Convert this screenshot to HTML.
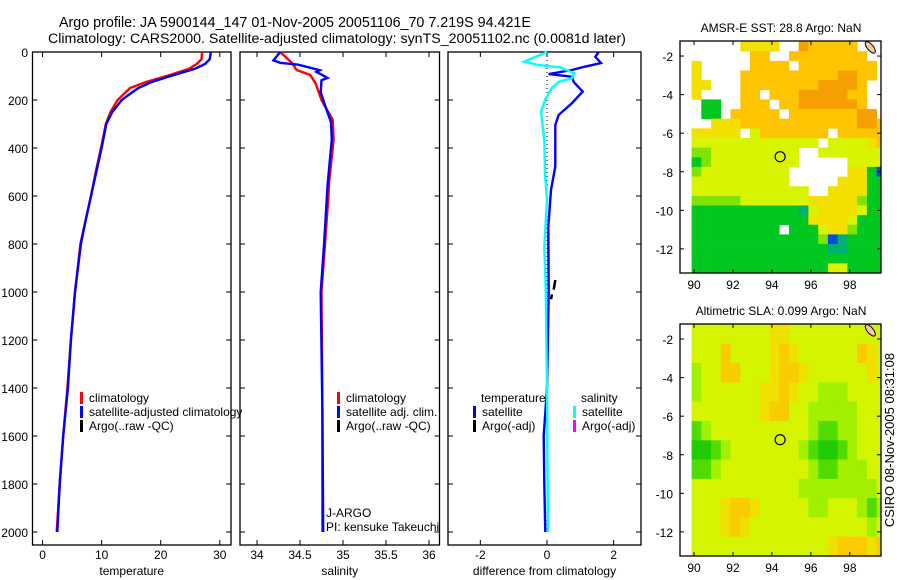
<!DOCTYPE html>
<html><head><meta charset="utf-8"><style>
html,body{margin:0;padding:0;background:#fff;}
svg{display:block;font-family:"Liberation Sans",sans-serif;}
</style></head><body>
<svg id="fig" width="900" height="580" viewBox="0 0 900 580" xmlns="http://www.w3.org/2000/svg">
<rect width="900" height="580" fill="#fff"/>
<text x="59" y="27" font-size="14.3">Argo profile: JA 5900144_147 01-Nov-2005 20051106_70 7.219S 94.421E</text>
<text x="48" y="43" font-size="14.2">Climatology: CARS2000. Satellite-adjusted climatology: synTS_20051102.nc (0.0081d later)</text>
<g id="plots"></g>
<text transform="translate(894,440) rotate(-90)" text-anchor="middle" font-size="13">CSIRO 08-Nov-2005 08:31:08</text>
</svg>
<script>
// ---- profile data ----
const tDepth = [0,30,50,70,100,125,150,200,250,300,400,500,600,700,800,1000,1200,1400,1600,1800,2000];
const tempClim = [27,26.9,26.1,24.8,21,17.5,14.8,12.7,11.5,10.7,9.9,9,8.2,7.3,6.4,5.5,4.8,4.2,3.5,2.9,2.4];
const tempSat = [28.5,28.3,27.5,25.8,21.7,18.5,16.2,13.4,11.8,10.8,10.0,9.1,8.2,7.3,6.5,5.5,4.8,4.3,3.5,2.9,2.5];
const sDepthClim = [0,47,75,96,130,200,283,366,533,600,800,1000,1500,2000];
const salClim = [34.27,34.41,34.46,34.62,34.68,34.75,34.88,34.89,34.84,34.83,34.79,34.75,34.76,34.76];
const sDepthSat = [0,35,45,53,76,83,94,108,118,167,222,292,366,476,560,800,1000,1500,2000];
const salSat = [34.27,34.19,34.27,34.48,34.73,34.69,34.75,34.82,34.75,34.74,34.79,34.86,34.87,34.84,34.82,34.78,34.74,34.76,34.77];
const dDepthT = [0,20,46,62,75,92,103,125,165,213,262,304,477,575,727,1000,1400,1600,1800,2000];
const diffTemp = [1.55,1.45,1.62,1.1,0.75,0.05,0.75,0.8,1.07,0.75,0.35,0.25,0.25,0.12,0.04,0.05,0,-0.1,-0.08,-0.05];
const dDepthS = [0,40,54,64,89,110,124,151,200,249,368,506,617,811,978,1400,2000];
const diffSal = [0,-0.68,-0.26,0.4,0.82,0.74,0.35,0.14,-0.06,-0.18,-0.08,-0.06,0,-0.08,-0.04,0,0.03];
const depthTicks = [0,200,400,600,800,1000,1200,1400,1600,1800,2000];
const tempTicks = [0,10,20,30];
const salTicks = [34,34.5,35,35.5,36];
const salTickLabels = ["34","34.5","35","35.5","36"];
const diffTicks = [-2,0,2];

// ---- map data (0.5 deg cells from lon 89.875, lat -1.25 downward) ----
const sstRows = [
".....YYYY..oyyyyy...",
"......yy..yyyyyyyy..",
"Y.....yyyy.yyyyyyyy.",
"Y....yyyyyyyyyyooyy.",
"YY...yyyyyyyyooooy..",
"Y....yy.yyyoooooyy..",
".gg..yyy.yyooooooy..",
".gg.yyyyy.yyyyyyyoo.",
"..YYYyyyyyyyyyyyyooy",
"YYYYY.Lyyyyyyy.yyyyy",
"LLLLLLLLLLLLL.LLLLYy",
"GGLLLLLLLLL..LLLLLLL",
"gGLLLLLLLLL.....LLLL",
"GLLLLLLLLL......YYgb",
"LLLLLLLLLL.....YYYgg",
"LLLLLLLLLLLL..YYYYgg",
"GGGGGLLLLLLLYYYYYGgg",
"gggggggggggtLYYYYLgg",
"ggggggggggggYYYYLggg",
"ggggggggg.gggLYYGggg",
"gggggggggggggGbtgggg",
"ggggggggggggggttgggg",
"gggggggggggggggggggg",
"ggggggggggggggLLgggg"];
const slaRows = [
"LLLLLLLLyyLLLLLLLLLL","LLLLLLLLyyLLLLLLLLLL",
"LLLoLLLLyoyLLLLLLoyL","LLLoLLLLyoyLLLLLLoyL",
"GLLooLLLyooyLLLLLLyL","GLLooLLLyooyLLLLLLyL",
"GLLLLLLyyoyLLGGGLLLL","GLLLLLLyyoyLLGGGLLLL",
"LLLLLLLyooLLGGGGGLLL","LLLLLLLyooLLGGGGGLLL",
"gGLLLLLLLLLLGggGGLLL","gGLLLLLLLLLLGggGGLLL",
"ddgGLLLLLLLGgddgGLLL","ddgGLLLLLLLGgddgGLLL",
"ggGLLLLLLLLLGggGGGLL","ggGLLLLLLLLLGggGGGLL",
"LLLLLLLLLLLGGGGGGGGL","LLLLLLLLLLLGGGGGGGGL",
"LLLyooyLLLLLGGLLLGgG","LLLyooyLLLLLGGLLLGgG",
"LLLyoyLLLLLLLLLLLLGL","LLLyoyLLLLLLLLLLLLGL",
"LLLLLLLLLLLLLLyoooyo","LLLLLLLLLLLLLLyoooyo"];
const latTicks = [-2,-4,-6,-8,-10,-12];
const lonTicks = [90,92,94,96,98];
const argoLon = 94.42, argoLat = -7.22;

const NS = "http://www.w3.org/2000/svg";
const root = document.getElementById('plots');
function mk(tag, attrs, parent){const e=document.createElementNS(NS,tag);for(const k in attrs)e.setAttribute(k,attrs[k]);(parent||root).appendChild(e);return e;}
function txt(x,y,s,size,anchor,parent){const t=mk('text',{x:x,y:y,'font-size':size,'text-anchor':anchor||'start'},parent);t.textContent=s;return t;}

const yTop=52, yBot=545, yD=d=>52+d*0.24;
function panel(name,x0,x1,xmin,xmax,ticks,labels,xlabel,showY){
  const g=mk('g',{});
  
  
  const sx=v=>x0+(v-xmin)/(xmax-xmin)*(x1-x0);
  const fr=mk('rect',{x:x0,y:yTop,width:x1-x0,height:yBot-yTop,fill:'none',stroke:'#000','stroke-width':1.3},g);
  
  
  ticks.forEach((v,i)=>{const x=sx(v);
    mk('line',{x1:x,x2:x,y1:yBot,y2:yBot-5,stroke:'#000'},g);
    mk('line',{x1:x,x2:x,y1:yTop,y2:yTop+5,stroke:'#000'},g);
    const t=txt(x,559,labels[i],12,'middle',g);
    
    
  });
  depthTicks.forEach(d=>{const y=yD(d);
    mk('line',{x1:x0,x2:x0+5,y1:y,y2:y,stroke:'#000'},g);
    mk('line',{x1:x1,x2:x1-5,y1:y,y2:y,stroke:'#000'},g);
    if(showY){const t=txt(28,y+5,String(d),12,'end',g);
      
      }
  });
  const xl=txt((x0+x1)/2,575,xlabel,12,'middle',g);
  
  
  return {g,sx};
}
function line(p,depths,vals,color,name,w){
  let d='';
  depths.forEach((dep,i)=>{d+=(i?'L':'M')+p.sx(vals[i]).toFixed(1)+','+yD(dep).toFixed(1);});
  const e=mk('path',{d:d,fill:'none',stroke:color,'stroke-width':w||2.4},p.g);
  
  
}
function legItem(g,x,y,color,label){
  mk('rect',{x:x,y:y-10,width:3,height:12,fill:color},g);
  const t=txt(x+9,y,label,12,'start',g);
  
  
}

// panel 1
const p1=panel('temperature-panel',32.5,231,-1.7,31.9,tempTicks,tempTicks.map(String),'temperature',true);
line(p1,tDepth,tempClim,'#f00','temp-climatology-line');
line(p1,tDepth,tempSat,'#00f','temp-satellite-line');
legItem(p1.g,80,402,'#f00','climatology');
legItem(p1.g,80,416,'#00f','satellite-adjusted climatology');
legItem(p1.g,80,430,'#000','Argo(..raw -QC)');
// panel 2
const p2=panel('salinity-panel',240,439.5,33.802,36.122,salTicks,salTickLabels,'salinity',false);
line(p2,sDepthClim,salClim,'#f00','sal-climatology-line');
line(p2,sDepthSat,salSat,'#00f','sal-satellite-line');
legItem(p2.g,337,402,'#f00','climatology');
legItem(p2.g,337,416,'#00f','satellite adj. clim.');
legItem(p2.g,337,430,'#000','Argo(..raw -QC)');
const jl=txt(326,517,'J-ARGO',12,'start',p2.g);


const pl=txt(326,531,'PI: kensuke Takeuchi',12,'start',p2.g);


// panel 3
const p3=panel('difference-panel',448,641,-2.97,2.82,diffTicks,diffTicks.map(String),'difference from climatology',false);
const zx=p3.sx(0);
const zl=mk('line',{x1:zx,x2:zx,y1:yTop,y2:yD(2000),stroke:'#000','stroke-dasharray':'1,3'},p3.g);


line(p3,dDepthT,diffTemp,'#00f','temp-difference-line');
line(p3,dDepthS,diffSal,'#0ff','sal-difference-line');
mk('path',{d:`M${p3.sx(0.25)},${yD(950)}L${p3.sx(0.2)},${yD(990)}M${p3.sx(0.15)},${yD(1010)}L${p3.sx(0.12)},${yD(1030)}`,stroke:'#000','stroke-width':2.5,fill:'none'},p3.g);
const th=txt(481,402,'temperature',12,'start',p3.g);


const sh=txt(581,402,'salinity',12,'start',p3.g);


legItem(p3.g,473,416,'#00f','satellite');
legItem(p3.g,473,430,'#000','Argo(-adj)');
legItem(p3.g,573,416,'#0ff','satellite');
legItem(p3.g,573,430,'#f0f','Argo(-adj)');

// maps
const sstCol={o:'#f5a000',y:'#ffc400',Y:'#f2e000',L:'#d8f400',G:'#80e400',g:'#00c820',t:'#00b070',b:'#0050e0'};
const slaCol={L:'#d4f400',y:'#f0e000',o:'#f8cc00',G:'#a0f000',g:'#50dc00',d:'#20cc00'};
function map(name,ytop,rows,cols,title){
  const x0=680,x1=881,y0=ytop,y1=ytop+232;
  const lonMin=89.28,lonMax=99.6,latMax=-1.22,latMin=-13.25;
  const sx=l=>x0+(l-lonMin)/(lonMax-lonMin)*(x1-x0);
  const sy=l=>y0+(latMax-l)/(latMax-latMin)*(y1-y0);
  const g=mk('g',{});
  
  
  const cp=mk('clipPath',{id:name+'-clip'},g);
  mk('rect',{x:x0,y:y0,width:x1-x0,height:y1-y0},cp);
  const cg=mk('g',{'clip-path':`url(#${name}-clip)`},g);
  rows.forEach((row,r)=>{for(let c=0;c<row.length;c++){const ch=row[c];if(!cols[ch])continue;
    const la=-1.25-0.5*r, lo=89.875+0.5*c;
    const x=sx(lo), y=sy(la);
    mk('rect',{x:x.toFixed(1),y:y.toFixed(1),width:(sx(lo+0.5)-x+0.4).toFixed(1),height:(sy(la-0.5)-y+0.4).toFixed(1),fill:cols[ch]},cg);}});
  mk('ellipse',{cx:sx(99.05),cy:sy(-1.55),rx:3,ry:7,transform:`rotate(-40 ${sx(99.05)} ${sy(-1.55)})`,fill:'#f8c8a0',stroke:'#000'},cg);
  const ci=mk('circle',{cx:sx(argoLon),cy:sy(argoLat),r:5,fill:'none',stroke:'#000','stroke-width':1.2},g);
  
  
  mk('rect',{x:x0,y:y0,width:x1-x0,height:y1-y0,fill:'none',stroke:'#000','stroke-width':1.3},g);
  latTicks.forEach(l=>{const y=sy(l);
    mk('line',{x1:x0,x2:x0+4,y1:y,y2:y,stroke:'#000'},g);mk('line',{x1:x1,x2:x1-4,y1:y,y2:y,stroke:'#000'},g);
    const t=txt(673,y+5,String(l),12,'end',g);
    
    });
  lonTicks.forEach(l=>{const x=sx(l);
    mk('line',{x1:x,x2:x,y1:y1,y2:y1-4,stroke:'#000'},g);mk('line',{x1:x,x2:x,y1:y0,y2:y0+4,stroke:'#000'},g);
    const t=txt(x,y1+16,String(l),12,'middle',g);
    
    });
  const tt=txt(781,y0-9,title,12,'middle',g);
  
  
}
map('sst-map',41,sstRows,sstCol,'AMSR-E SST: 28.8 Argo: NaN');
map('sla-map',324,slaRows,slaCol,'Altimetric SLA: 0.099 Argo: NaN');
</script>
</body></html>
